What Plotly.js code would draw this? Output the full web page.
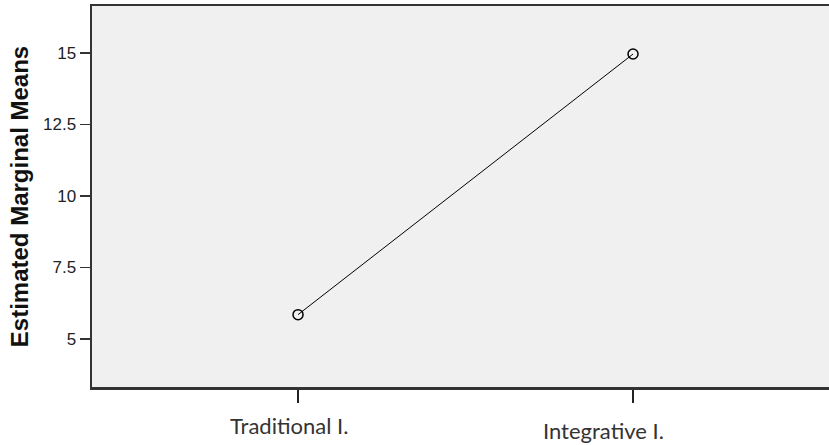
<!DOCTYPE html>
<html>
<head>
<meta charset="utf-8">
<script src="https://cdn.plot.ly/plotly-3.0.1.min.js"></script>
<style>html,body{margin:0;padding:0;background:#fff;}#chart{width:829px;height:445px;}</style>
</head>
<body>
<div id="chart"></div>
<script>
const categories = ["Traditional I.", "Integrative I."];
const means = [5.85, 14.96];
const yTickVals = [5, 7.5, 10, 12.5, 15];
const yTickText = ["5", "7.5", "10", "12.5", "15"];
const yTitle = "Estimated Marginal Means";

const xIdx = categories.map((c, i) => i);

const trace = {
  x: xIdx,
  y: means,
  type: 'scatter',
  mode: 'lines+markers',
  line: {color: '#000', width: 1},
  marker: {symbol: 'circle-open', size: 10, color: '#000', line: {width: 1.5, color: '#000'}},
  hoverinfo: 'skip',
  showlegend: false
};

const labelShiftX = [-9, -30];
const labelShiftY = [-38, -43];
const annotations = categories.map((c, i) => ({
  x: i, xref: 'x', y: 0, yref: 'paper',
  text: c, showarrow: false,
  xanchor: 'center', yanchor: 'middle',
  xshift: labelShiftX[i], yshift: labelShiftY[i],
  font: {family: 'Lato, "Open Sans", sans-serif', size: 22, color: '#333'}
}));

const layout = {
  width: 829, height: 445,
  margin: {l: 92, r: 0, t: 6, b: 58, pad: 0},
  paper_bgcolor: '#ffffff',
  plot_bgcolor: '#f0f0f0',
  showlegend: false,
  xaxis: {
    range: [-0.615, 1.585],
    tickvals: xIdx,
    ticktext: categories.map(() => ''),
    showticklabels: false,
    ticks: 'outside', ticklen: 13, tickwidth: 2, tickcolor: '#222',
    showline: true, linecolor: '#333', linewidth: 2.5, mirror: true,
    showgrid: false, zeroline: false, fixedrange: true
  },
  yaxis: {
    range: [3.32, 16.64],
    tickvals: yTickVals,
    ticktext: yTickText,
    ticks: 'outside', ticklen: 10, tickwidth: 1.5, tickcolor: '#333',
    tickfont: {family: '"Liberation Sans", Arial, sans-serif', size: 17, color: '#222'},
    showline: true, linecolor: '#333', linewidth: 2.5, mirror: false,
    showgrid: false, zeroline: false, fixedrange: true,
    title: {text: yTitle, standoff: 8,
      font: {family: '"Liberation Sans", Arial, sans-serif', size: 24, color: '#111', weight: 'bold'}}
  },
  annotations: annotations
};

Plotly.newPlot('chart', [trace], layout, {displayModeBar: false, staticPlot: true});
</script>
</body>
</html>
